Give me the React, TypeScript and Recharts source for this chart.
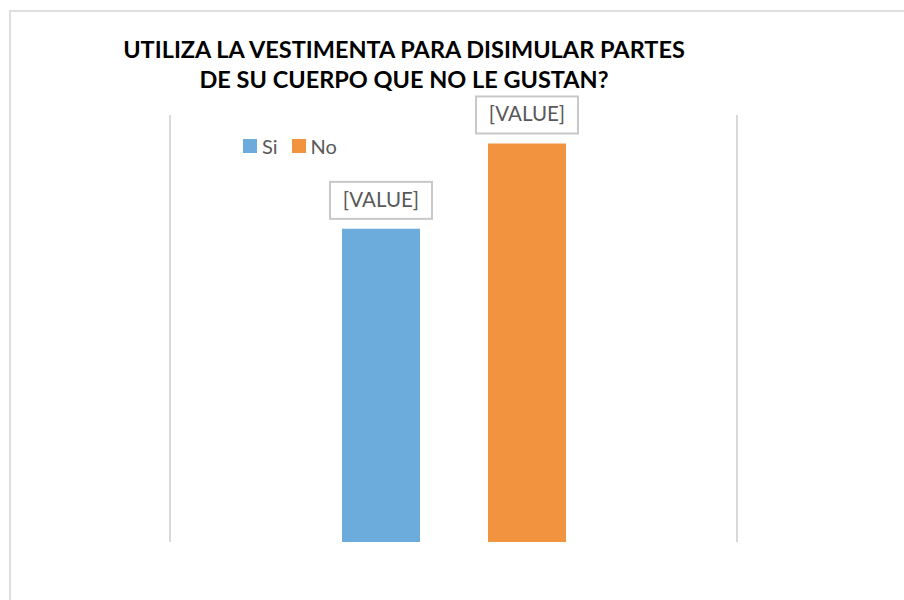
import React from "react";
import { BarChart, Bar, XAxis, YAxis, CartesianGrid, LabelList } from "recharts";

const categories = ["Respuesta"];
const seriesNames = ["Si", "No"];
const siValues = [0.44];
const noValues = [0.56];
const seriesColors = ["#6cacdd", "#f29340"];
const titleLines = ["UTILIZA LA VESTIMENTA PARA DISIMULAR PARTES", "DE SU CUERPO QUE NO LE GUSTAN?"];
const labelText = "[VALUE]";

const data = categories.map((c, i) => ({ name: c, Si: siValues[i], No: noValues[i] }));

const FONT = "Lato, 'Open Sans', sans-serif";

const ValueBox = (props: any) => {
  const { x, y, width } = props;
  const cx = x + width / 2;
  const bw = 102;
  const bh = 37;
  const by = y - 10 - bh;
  return (
    <g>
      <rect x={cx - bw / 2} y={by} width={bw} height={bh} fill="#ffffff" stroke="#c8c8c8" strokeWidth={2} />
      <text x={cx} y={by + bh / 2 + 1} textAnchor="middle" dominantBaseline="middle" fill="#595959" fontSize={20.5} fontFamily={FONT}>
        {labelText}
      </text>
    </g>
  );
};

export default function App() {
  return (
    <div style={{ position: "absolute", left: 0, top: 0, width: 904, height: 600, background: "#fff", overflow: "hidden" }}>
      <div style={{ position: "absolute", left: 9, top: 10, width: 1000, height: 700, borderTop: "2px solid #dedede", borderLeft: "2px solid #dedede", boxSizing: "border-box" }} />
      <div style={{ position: "absolute", left: 0, top: 34, width: 808, textAlign: "center", fontFamily: FONT, fontWeight: 700, fontSize: 23.5, lineHeight: "30px", color: "#000" }}>
        {titleLines.map((t, i) => (
          <div key={i}>{t}</div>
        ))}
      </div>
      <div style={{ position: "absolute", left: 0, top: 0 }}>
        <BarChart
          width={904}
          height={600}
          data={data}
          margin={{ top: 115, right: 167, bottom: 58, left: 170 }}
          barGap={68}
          barSize={78}
        >
          <CartesianGrid
            horizontal={false}
            vertical={true}
            stroke="#d9d9d9"
            strokeWidth={2}
            verticalCoordinatesGenerator={({ offset }: any) => [offset.left, offset.left + offset.width]}
          />
          <XAxis dataKey="name" hide />
          <YAxis hide domain={[0, 0.6]} />
          <Bar dataKey={seriesNames[0]} fill={seriesColors[0]} isAnimationActive={false}>
            <LabelList dataKey={seriesNames[0]} content={<ValueBox />} />
          </Bar>
          <Bar dataKey={seriesNames[1]} fill={seriesColors[1]} isAnimationActive={false}>
            <LabelList dataKey={seriesNames[1]} content={<ValueBox />} />
          </Bar>
        </BarChart>
      </div>
      <div style={{ position: "absolute", left: 243, top: 134, display: "flex", alignItems: "center", fontFamily: FONT, fontSize: 20, color: "#595959" }}>
        {seriesNames.map((n, i) => (
          <div key={n} style={{ display: "flex", alignItems: "center", marginRight: 14 }}>
            <span style={{ display: "inline-block", width: 14, height: 14, background: seriesColors[i], marginRight: 5 }} />
            <span>{n}</span>
          </div>
        ))}
      </div>
    </div>
  );
}
